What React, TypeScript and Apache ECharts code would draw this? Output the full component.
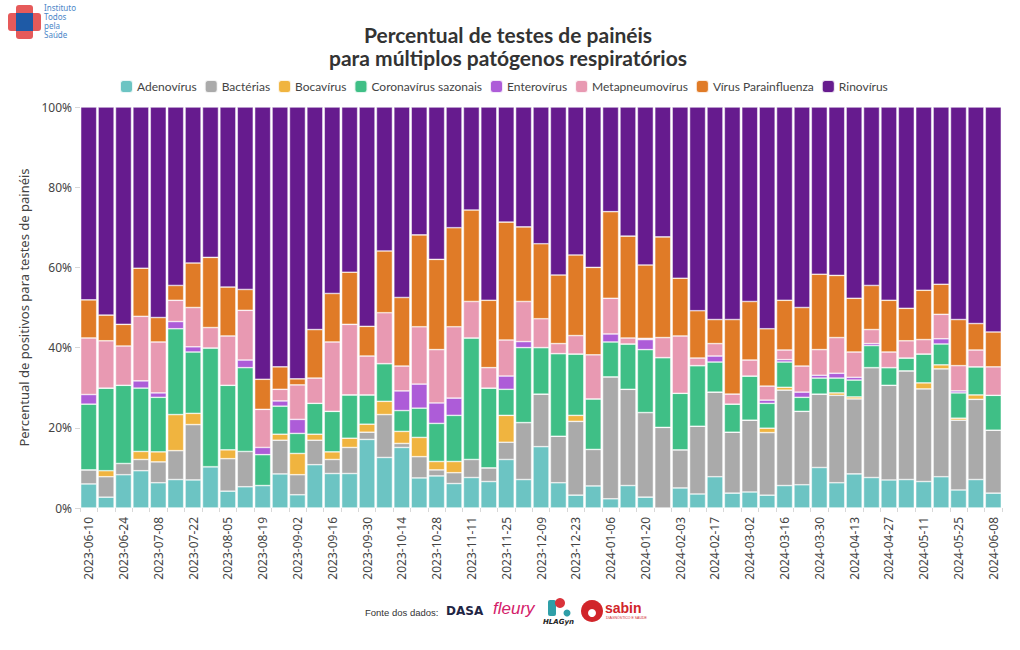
import React, { useEffect, useRef } from "react";
import * as echarts from "echarts";

const categories = [
  "2023-06-10","2023-06-17","2023-06-24","2023-07-01","2023-07-08","2023-07-15","2023-07-22","2023-07-29",
  "2023-08-05","2023-08-12","2023-08-19","2023-08-26","2023-09-02","2023-09-09","2023-09-16","2023-09-23",
  "2023-09-30","2023-10-07","2023-10-14","2023-10-21","2023-10-28","2023-11-04","2023-11-11","2023-11-18",
  "2023-11-25","2023-12-02","2023-12-09","2023-12-16","2023-12-23","2023-12-30","2024-01-06","2024-01-13",
  "2024-01-20","2024-01-27","2024-02-03","2024-02-10","2024-02-17","2024-02-24","2024-03-02","2024-03-09",
  "2024-03-16","2024-03-23","2024-03-30","2024-04-06","2024-04-13","2024-04-20","2024-04-27","2024-05-04",
  "2024-05-11","2024-05-18","2024-05-25","2024-06-01","2024-06-08"
];

const adenovirus = [6.0,2.7,8.3,9.3,6.3,7.1,7.0,10.3,4.2,5.3, 5.6,8.5,3.3,10.8,8.6,8.6,17.1,12.6,15.1,7.5, 8.0,6.1,7.6,6.6,12.1,7.1,15.3,6.3,3.2,5.5, 2.3,5.6,2.7,0,5.0,3.5,7.8,3.7,4.0,3.2, 5.6,5.8,10.1,6.3,8.5,7.6,7.0,7.1,6.6,7.8, 4.5,7.1,3.7];
const bacterias = [3.5,5.1,2.8,2.8,5.2,7.2,13.8,0,8.1,8.8, 0,8.4,5.0,6.1,3.5,6.5,1.8,10.7,1.0,5.3, 1.5,2.7,4.5,3.4,4.3,14.2,13.1,11.6,18.4,9.1, 30.4,24.0,21.1,20.1,9.5,16.9,21.1,15.2,17.9,15.6, 23.8,18.3,18.3,21.8,18.7,27.4,23.6,27.1,23.1,26.9, 17.4,20.0,15.7];
const bocavirus = [0,1.5,0,2.0,2.5,9.0,2.8,0,2.2,0, 0,1.5,5.3,1.5,1.9,2.3,2.0,3.3,3.0,4.8, 2.1,2.8,0,0,6.7,0,0,0,1.5,0, 0,0,0,0,0,0,0,0,0,1.1, 0.7,0,0,0.6,0.5,0,0,0,1.5,1.0, 0.5,1.1,0];
const coronavirus = [16.4,20.6,19.5,15.8,13.6,21.4,15.3,29.6,16.1,20.9, 7.7,7.0,5.0,7.7,10.1,10.8,7.3,9.4,5.2,7.3, 9.5,11.5,30.3,19.9,6.5,18.7,11.6,20.6,15.3,12.6, 8.7,11.3,15.7,17.4,14.1,15.1,7.5,7.0,11.0,6.2, 6.3,3.5,4.0,3.7,4.2,5.5,4.4,3.2,7.2,5.2, 6.3,7.0,8.7];
const enterovirus = [2.4,0,0,1.8,1.1,1.8,1.3,0,0,1.9, 1.8,1.3,3.5,0,0,0,0,0,4.9,6.0, 5.1,4.3,0,0,3.3,1.5,0,0,0,0, 2.0,0,2.5,0,0,0,1.5,0,0,0.8, 0.6,1.3,0.7,1.2,0.7,0.5,0,0,0,1.3, 0.5,0,0];
const metapneumovirus = [14.1,11.8,9.8,16.1,12.7,5.3,9.8,5.1,12.3,12.4, 9.5,2.9,8.6,6.3,17.3,17.6,9.7,12.7,6.2,14.3, 13.3,17.8,9.1,5.1,9.0,10.0,7.2,2.5,4.6,11.0, 8.9,1.5,0.3,5.0,14.3,1.9,3.1,2.5,4.0,3.5, 2.4,6.5,6.4,8.9,6.3,3.5,3.9,4.3,3.6,6.1, 6.3,4.2,7.1];
const parainfluenza = [9.5,6.4,5.4,12.0,6.1,3.7,11.1,17.5,12.2,5.2, 7.5,5.6,1.5,12.1,12.1,13.0,7.4,15.4,17.1,22.9, 22.5,24.7,22.8,16.8,29.4,18.6,18.7,17.1,20.1,21.8, 21.6,25.4,18.3,25.1,14.4,11.8,6.0,18.6,14.6,14.3, 12.4,14.6,18.8,15.5,13.4,11.0,12.9,8.1,12.3,7.5, 11.5,6.6,8.7];
const rinovirus = [48.1,51.9,54.2,40.2,52.5,44.5,38.9,37.5,44.9,45.5, 67.9,64.8,67.8,55.5,46.5,41.2,54.7,35.9,47.5,31.9, 38.0,30.1,25.7,48.2,28.7,29.9,34.1,41.9,36.9,40.0, 26.1,32.2,39.4,32.4,42.7,50.8,53.0,53.0,48.5,55.3, 48.2,50.0,41.7,42.0,47.7,44.5,48.2,50.2,45.7,44.2, 53.0,54.0,56.1];

const titleLines = ["Percentual de testes de painéis", "para múltiplos patógenos respiratórios"];
const seriesNames = ["Adenovírus","Bactérias","Bocavírus","Coronavírus sazonais","Enterovírus","Metapneumovírus","Vírus Parainfluenza","Rinovírus"];
const seriesColors = ["#6cc4c3","#aaaaaa","#f0b43f","#3fbf86","#ad5cd8","#e899b2","#e07b27","#661b8e"];
const seriesData = [adenovirus,bacterias,bocavirus,coronavirus,enterovirus,metapneumovirus,parainfluenza,rinovirus];
const yTicks = [0,20,40,60,80,100];

export default function App() {
  const ref = useRef<HTMLDivElement>(null);
  useEffect(() => {
    const chart = echarts.init(ref.current!, null, { renderer: "svg" });
    const series = seriesNames.map((name, i) => ({
      name,
      type: "bar",
      stack: "total",
      data: seriesData[i],
      barCategoryGap: "8%",
      itemStyle: { color: seriesColors[i], borderColor: "rgba(255,255,255,0.85)", borderWidth: 0.6 },
    }));
    const titleStyle = { fontFamily: "Lato", fontWeight: "bold", fontSize: 21, color: "#333333" };
    chart.setOption({
      animation: false,
      backgroundColor: "#ffffff",
      title: [
        { text: titleLines[0], left: 508, textAlign: "center", top: 24, padding: 0, textStyle: titleStyle },
        { text: titleLines[1], left: 508, textAlign: "center", top: 47, padding: 0, textStyle: titleStyle },
      ],
      legend: {
        top: 74,
        left: 114,
        icon: "roundRect",
        itemWidth: 13,
        itemHeight: 13,
        itemGap: 7,
        data: seriesNames,
        textStyle: { fontFamily: "Lato", fontSize: 12, color: "#444444", padding: [0, 0, 0, -1] },
      },
      grid: { left: 80, right: 18, top: 107, bottom: 142 },
      xAxis: {
        type: "category",
        data: categories,
        axisLine: { show: false },
        axisTick: { show: true, length: 4, lineStyle: { color: "#d8d8d8" }, interval: 0 },
        axisLabel: { interval: 1, rotate: 90, fontFamily: "Noto Sans", fontSize: 12, color: "#444444", margin: 9 },
      },
      yAxis: {
        type: "value",
        min: yTicks[0],
        max: yTicks[yTicks.length - 1],
        interval: 20,
        name: "Percentual de positivos para testes de painéis",
        nameLocation: "middle",
        nameGap: 48,
        nameTextStyle: { fontFamily: "Noto Sans", fontSize: 13, color: "#444444" },
        axisLine: { show: false },
        axisTick: { show: true, length: 5, lineStyle: { color: "#d8d8d8" } },
        splitLine: { show: false },
        axisLabel: { formatter: "{value}%", fontFamily: "Noto Sans", fontSize: 12, color: "#444444", margin: 8 },
      },
      series,
      graphic: [
        { type: "rect", shape: { x: 16, y: 5, width: 17, height: 34, r: 3 }, style: { fill: "#e65a5a" } },
        { type: "rect", shape: { x: 8, y: 13, width: 33, height: 18, r: 3 }, style: { fill: "#e65a5a" } },
        { type: "rect", shape: { x: 16, y: 13, width: 17, height: 18 }, style: { fill: "#1e5aa6" } },
        { type: "text", x: 44, y: 3, style: { text: "Instituto\nTodos\npela\nSaúde", fontFamily: "Noto Sans", fontSize: 8, lineHeight: 9, fill: "#4a86c8" } },
        { type: "text", x: 365, y: 607, style: { text: "Fonte dos dados:", fontFamily: "Liberation Sans", fontSize: 9.5, fill: "#333333" } },
        { type: "text", x: 446, y: 605, style: { text: "DASA", fontFamily: "DejaVu Sans", fontWeight: "bold", fontSize: 12, fill: "#1f2544" } },
        { type: "text", x: 493, y: 600, style: { text: "fleury", fontFamily: "Liberation Sans", fontStyle: "italic", fontSize: 17, fill: "#d4206a" } },
        { type: "rect", shape: { x: 548, y: 600, width: 8, height: 16, r: 2 }, style: { fill: "#2f9fa8" } },
        { type: "circle", shape: { cx: 560, cy: 603, r: 5 }, style: { fill: "#d9333b" } },
        { type: "circle", shape: { cx: 567, cy: 613, r: 3.5 }, style: { fill: "#2f9fa8" } },
        { type: "text", x: 543, y: 618, style: { text: "HLAGyn", fontFamily: "DejaVu Sans", fontWeight: "bold", fontStyle: "italic", fontSize: 7, fill: "#222222" } },
        { type: "circle", shape: { cx: 592, cy: 611, r: 11 }, style: { fill: "#d1252a" } },
        { type: "circle", shape: { cx: 592, cy: 613, r: 4 }, style: { fill: "#ffffff" } },
        { type: "text", x: 605, y: 601, style: { text: "sabin", fontFamily: "Liberation Sans", fontWeight: "bold", fontSize: 14, fill: "#d1252a" } },
        { type: "text", x: 606, y: 616, style: { text: "DIAGNÓSTICO E SAÚDE", fontFamily: "Liberation Sans", fontSize: 3.5, fill: "#d1252a" } },
      ],
    });
    return () => chart.dispose();
  }, []);
  return <div ref={ref} style={{ width: 1020, height: 650, position: "absolute", left: 0, top: 0 }} />;
}
